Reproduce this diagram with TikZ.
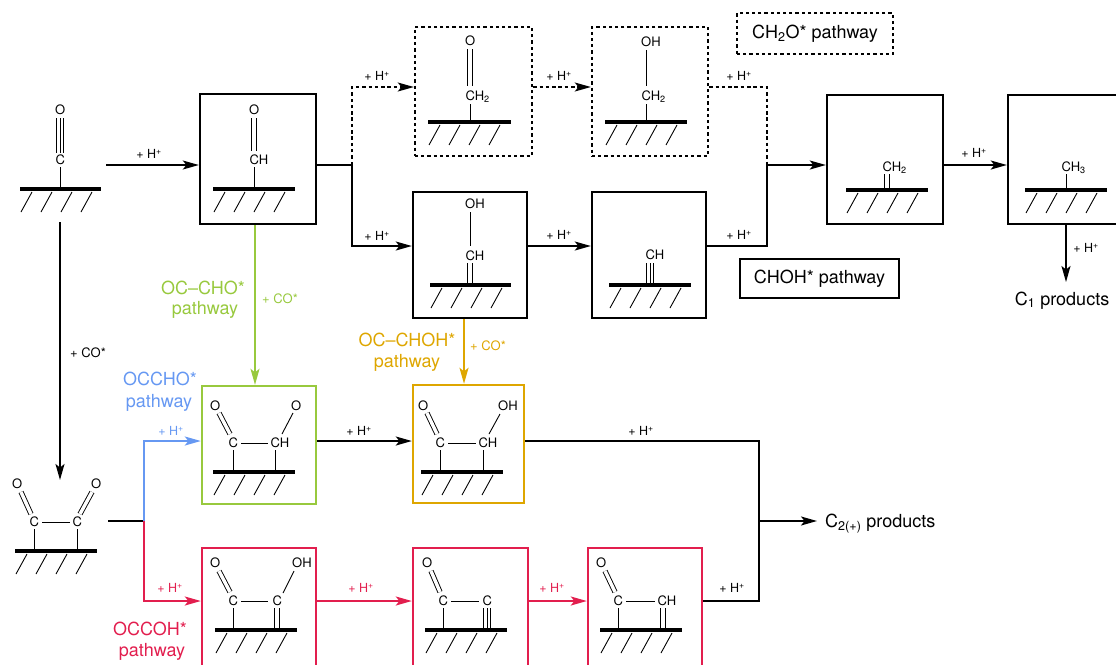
\documentclass[tikz,border=0pt]{standalone}
\usepackage{fontspec}
\setmainfont{TeX Gyre Heros}
\usetikzlibrary{arrows.meta}
\definecolor{pgreen}{RGB}{152,201,62}
\definecolor{pyellow}{RGB}{222,166,0}
\definecolor{pblue}{RGB}{102,152,242}
\definecolor{pred}{RGB}{226,30,78}
\newcount\atomno
\newcommand\atm[4]{%
  \global\advance\atomno by 1
  \edef\atmname{atom\the\atomno}%
  \node[atom,anchor=base west] (\atmname) at ({#1-#3},{#2+4.6}) {#4};}
\newcommand\surf[3]{%
  \draw[surfbar] (#1,#3) -- (#2,#3);
  \foreach \k in {0,1,2,3}{\draw[hatch] ({#1+1+20*\k},{#3+23}) -- ({#1+12+20*\k},{#3+3});}}
\tikzset{
 bondl/.style={line width=0.9pt},
 dbond/.style={bondl, double, double distance=3.4pt},
 tbond/.style={bondl, double, double distance=5.6pt},
 surfbar/.style={line width=3.8pt},
 hatch/.style={line width=0.9pt},
 atom/.style={font=\fontsize{13}{13}\selectfont, inner sep=0pt},
 box/.style={draw, line width=2.4pt, inner sep=0pt},
 dbox/.style={box, dash pattern=on 3.2pt off 3pt},
 conn/.style={line width=1.6pt},
 arr/.style={-{Stealth[length=16pt,width=9pt,inset=3.5pt]}},
 dconn/.style={conn, dash pattern=on 3.5pt off 2.8pt},
 lab/.style={font=\fontsize{12.5}{13}\selectfont, inner sep=0pt},
 colab/.style={font=\fontsize{13}{13}\selectfont, inner sep=0pt, anchor=west},
 plab/.style={font=\fontsize{18}{22}\selectfont, inner sep=0pt},
}
\begin{document}
\begin{tikzpicture}[x=1pt,y=-1pt]
\useasboundingbox (0,0) rectangle (1116,664);
% row coordinates
\coordinate (r1) at (0,165);
\coordinate (rd) at (0,87);
\coordinate (r2) at (0,246);
\coordinate (r3) at (0,441);
\coordinate (r5) at (0,601);
\coordinate (co) at (106,165);
\coordinate (cobot) at (60,222);
\coordinate (occotop) at (60,480);
\coordinate (occor) at (108,521);
\coordinate (j1) at (352,165);
\coordinate (j2) at (767,165);
\coordinate (j3) at (759,521);
\coordinate (j4) at (144,521);
\coordinate (c2tip) at (817,521);
\coordinate (c1tip) at (1066,282);
% boxes
\node[box, minimum width=116pt, minimum height=130pt] (b1) at (258,159) {};
\node[dbox, minimum width=117pt, minimum height=129pt] (dA) at (473.5,91.5) {};
\node[dbox, minimum width=116pt, minimum height=129pt] (dB) at (650,91.5) {};
\node[box, minimum width=114pt, minimum height=126pt] (bF) at (470,255) {};
\node[box, minimum width=114pt, minimum height=126pt] (bG) at (649,255) {};
\node[box, minimum width=116pt, minimum height=129pt] (bD) at (885,159.5) {};
\node[box, minimum width=116pt, minimum height=129pt] (bE) at (1066,159.5) {};
\node[box, draw=pgreen, minimum width=114pt, minimum height=118pt] (green) at (259,445) {};
\node[box, draw=pyellow, minimum width=111pt, minimum height=118pt] (yellow) at (468.5,444) {};
\node[box, draw=pred, minimum width=114pt, minimum height=130pt] (red1) at (259,613) {};
\node[box, draw=pred, minimum width=115pt, minimum height=130pt] (red2) at (470.5,613) {};
\node[box, draw=pred, minimum width=114pt, minimum height=130pt] (red3) at (645,613) {};
\node[dbox, plab, minimum width=156pt, minimum height=41pt] (ch2o) at (815,33.5) {CH\textsubscript{2}O* pathway};
\node[box, plab, minimum width=159pt, minimum height=39pt] (choh) at (819.5,278.5) {CHOH* pathway};
% products
\node[plab, anchor=base west] (c2) at (825,527.5) {C\textsubscript{2(+)} products};
\node[plab, anchor=base] (c1) at (1062,305) {C\textsubscript{1} products};
% connectors
\draw[conn,arr] (co) -- (b1.west |- r1);
\draw[conn,arr] (b1.east |- r1) -- (j1) |- (bF.west |- r2);
\draw[dconn,arr] (j1) |- (dA.west |- rd);
\draw[dconn,arr] (dA.east |- rd) -- (dB.west |- rd);
\draw[dconn] (dB.east |- rd) -| (j2);
\draw[conn,arr] (bF.east |- r2) -- (bG.west |- r2);
\draw[conn] (bG.east |- r2) -| (j2);
\draw[conn,arr] (j2) -- (bD.west |- r1);
\draw[conn,arr] (bD.east |- r1) -- (bE.west |- r1);
\draw[conn,arr] (bE.south) -- (c1tip);
\draw[conn,arr] (cobot) -- (occotop);
\draw[conn,pgreen,arr] ([xshift=-3pt]b1.south) -- ([xshift=-4pt]green.north);
\draw[conn,pyellow,arr] ([xshift=-6pt]bF.south) -- ([xshift=-4.5pt]yellow.north);
\draw[conn,arr] (green.east |- r3) -- (yellow.west |- r3);
\draw[conn] (yellow.east |- r3) -| (j3);
\draw[conn] (red3.east |- r5) -| (j3);
\draw[conn,arr] (j3) -- (c2tip);
\draw[conn] (occor) -- (j4);
\draw[conn,pblue,arr] (j4) |- (green.west |- r3);
\draw[conn,pred,arr] (j4) |- (red1.west |- r5);
\draw[conn,pred,arr] (red1.east |- r5) -- (red2.west |- r5);
\draw[conn,pred,arr] (red2.east |- r5) -- (red3.west |- r5);
% step labels
\node[lab] (h1) at (149,154) {+ H\textsuperscript{+}};
\node[lab] (h2) at (377,76) {+ H\textsuperscript{+}};
\node[lab] (h3) at (377,236) {+ H\textsuperscript{+}};
\node[lab] (h4) at (559,76) {+ H\textsuperscript{+}};
\node[lab] (h5) at (739,76) {+ H\textsuperscript{+}};
\node[lab] (h6) at (559,235) {+ H\textsuperscript{+}};
\node[lab] (h7) at (739,235) {+ H\textsuperscript{+}};
\node[lab] (h8) at (974,153) {+ H\textsuperscript{+}};
\node[lab] (h9) at (1086,248) {+ H\textsuperscript{+}};
\node[lab] (h10) at (359,431) {+ H\textsuperscript{+}};
\node[lab] (h11) at (641,431) {+ H\textsuperscript{+}};
\node[lab,text=pblue] (h12) at (171,431) {+ H\textsuperscript{+}};
\node[lab,text=pred] (h13) at (170,588) {+ H\textsuperscript{+}};
\node[lab,text=pred] (h14) at (361,588) {+ H\textsuperscript{+}};
\node[lab,text=pred] (h15) at (552,588) {+ H\textsuperscript{+}};
\node[lab] (h16) at (732,588) {+ H\textsuperscript{+}};
\node[colab] (co1) at (70,353) {+ CO*};
\node[colab,text=pgreen] (co2) at (262,299) {+ CO*};
\node[colab,text=pyellow] (co3) at (470,346) {+ CO*};
% pathway labels
\node[plab,text=pgreen] (gp1) at (203,288) {OC–CHO*};
\node[plab,text=pgreen] (gp2) at (205,310) {pathway};
\node[plab,text=pblue] (bp1) at (160,379) {OCCHO*};
\node[plab,text=pblue] (bp2) at (159,403) {pathway};
\node[plab,text=pyellow] (yp1) at (407,340) {OC–CHOH*};
\node[plab,text=pyellow] (yp2) at (407,363) {pathway};
\node[plab,text=pred] (rp1) at (150,629) {OCCOH*};
\node[plab,text=pred] (rp2) at (152,652) {pathway};
% ---- molecules ----
% CO*
\draw[tbond] (60,118)--(60,153); \draw[bondl] (60,118)--(60,153);
\draw[bondl] (60,167)--(60,189);
\surf{20}{101}{189}
\atm{60}{110}{5.05}{O}
\atm{60}{160}{4.7}{C}
% box 1
\draw[dbond] (254,118)--(254,151);
\draw[bondl] (254,167)--(254,189);
\surf{213}{295}{189}
\atm{254}{110}{5.05}{O}
\atm{254}{160}{4.7}{CH}
% dotted A
\draw[dbond] (470,49)--(470,86);
\draw[bondl] (470,104)--(470,122);
\surf{428}{511}{122}
\atm{470}{41}{5.05}{O}
\atm{470}{96}{4.7}{CH\textsubscript{2}}
% dotted B
\draw[bondl] (646,50)--(646,86);
\draw[bondl] (646,104)--(646,122);
\surf{605}{687}{122}
\atm{646}{42}{5.05}{OH}
\atm{646}{96}{4.7}{CH\textsubscript{2}}
% box F
\draw[bondl] (470,212)--(470,246);
\draw[dbond] (470,263)--(470,285);
\surf{430}{511}{285}
\atm{470}{204}{5.05}{OH}
\atm{470}{256}{4.7}{CH}
% box G
\draw[tbond] (650,263)--(650,285); \draw[bondl] (650,263)--(650,285);
\surf{609}{691}{285}
\atm{650}{255}{4.7}{CH}
% box D
\draw[dbond] (887,174)--(887,190);
\surf{846}{928}{190}
\atm{887}{167}{4.7}{CH\textsubscript{2}}
% box E
\draw[bondl] (1066,174)--(1066,190);
\surf{1025}{1107}{190}
\atm{1066}{167}{4.7}{CH\textsubscript{3}}
% green
\draw[dbond] (219,413)--(230,434);
\draw[bondl] (293,413)--(282,434);
\draw[bondl] (241,443)--(268,443);
\draw[bondl] (233,450)--(233,472);
\draw[bondl] (275,450)--(275,472);
\surf{213}{295}{472}
\atm{215}{406}{5.05}{O}
\atm{233}{443}{4.7}{C}
\atm{275}{443}{4.7}{CH}
\atm{296}{406}{5.05}{O}
% yellow
\draw[dbond] (427,413)--(437,434);
\draw[bondl] (500,414)--(489,434);
\draw[bondl] (448,443)--(476,443);
\draw[bondl] (440,450)--(440,472);
\draw[bondl] (483,450)--(483,472);
\surf{421}{503}{472}
\atm{423}{406}{5.05}{O}
\atm{440}{443}{4.7}{C}
\atm{483}{443}{4.7}{CH}
\atm{503}{406}{5.05}{OH}
% OCCO
\draw[dbond] (21,492)--(31,514);
\draw[dbond] (92,492)--(80,514);
\draw[bondl] (42,522)--(70,522);
\draw[bondl] (34,529)--(34,551);
\draw[bondl] (77,529)--(77,551);
\surf{15}{97}{551}
\atm{17}{484}{5.05}{O}
\atm{34}{522}{4.7}{C}
\atm{77}{522}{4.7}{C}
\atm{96}{484}{5.05}{O}
% red 1
\draw[dbond] (219,571)--(230,592);
\draw[bondl] (294,571)--(283,593);
\draw[bondl] (241,601)--(268,601);
\draw[bondl] (233,608)--(233,630);
\draw[dbond] (277,608)--(277,630);
\surf{215}{297}{630}
\atm{215}{563}{5.05}{O}
\atm{233}{601}{4.7}{C}
\atm{277}{601}{4.7}{C}
\atm{297}{563}{5.05}{OH}
% red 2
\draw[dbond] (431,571)--(440,592);
\draw[bondl] (451,601)--(479,601);
\draw[bondl] (443,608)--(443,630);
\draw[tbond] (487,608)--(487,630); \draw[bondl] (487,608)--(487,630);
\surf{425}{507}{630}
\atm{427}{563}{5.05}{O}
\atm{443}{601}{4.7}{C}
\atm{487}{601}{4.7}{C}
% red 3
\draw[dbond] (605,571)--(615,592);
\draw[bondl] (626,601)--(655,601);
\draw[bondl] (618,608)--(618,630);
\draw[dbond] (663,608)--(663,630);
\surf{600}{682}{630}
\atm{601}{563}{5.05}{O}
\atm{618}{601}{4.7}{C}
\atm{662}{601}{4.7}{CH}
\end{tikzpicture}
\end{document}
